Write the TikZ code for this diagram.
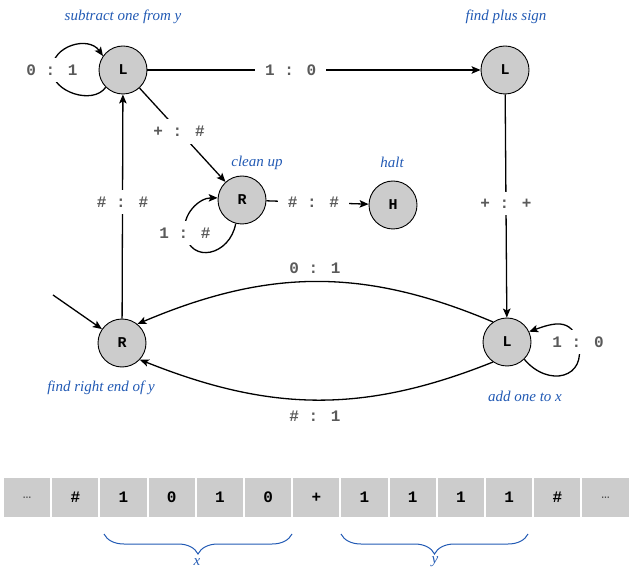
\documentclass[tikz,border=0pt]{standalone}
\usepackage{fontspec}
\setmainfont{Liberation Serif}
\newfontfamily\mono{Liberation Mono}
\usetikzlibrary{arrows.meta,decorations.pathreplacing,calc}
\definecolor{capblue}{RGB}{34,90,180}
\definecolor{lblgray}{RGB}{90,90,90}
\definecolor{cellgray}{RGB}{204,204,204}
\begin{document}
\begin{tikzpicture}[x=1pt,y=1pt,
  state/.style={circle,draw=black,line width=0.9pt,fill=cellgray,minimum size=48pt,inner sep=0pt,font=\mono\bfseries\fontsize{15}{15}\selectfont},
  captxt/.style={text=capblue,font=\itshape\fontsize{15}{15}\selectfont},
  lbl/.style={text=lblgray,fill=white,inner xsep=10pt,inner ysep=7pt,font=\mono\bfseries\fontsize{16}{16}\selectfont},
  trans/.style={line width=1.3pt,-{Stealth[length=9pt,width=7.5pt,inset=2pt]}},
  cell/.style={fill=cellgray,minimum width=46.2pt,minimum height=39pt,inner sep=0pt,font=\mono\bfseries\fontsize{16}{16}\selectfont},
  dotcell/.style={cell,font=\mono\fontsize{14}{14}\selectfont,text=black!70},
  brc/.style={draw=capblue,line width=1pt,decorate,decoration={brace,mirror,amplitude=20pt}}
]
\useasboundingbox (0,0) rectangle (629,568);
% states
\node[state] (S) at (123,498) {L};
\node[state] (P) at (505,498) {L};
\node[state] (C) at (242,368) {R};
\node[state] (H) at (393,363) {H};
\node[state] (FR) at (122,225) {R};
\node[state] (A) at (507,226) {L};
% captions
\node[captxt] (capS) at (123,551) {subtract one from y};
\node[captxt] (capP) at (506,551) {find plus sign};
\node[captxt] (capC) at (257,405) {clean up};
\node[captxt] (capH) at (392,406) {halt};
\node[captxt] (capFR) at (101,180) {find right end of y};
\node[captxt] (capA) at (525,172) {add one to x};
% transitions
\draw[trans] (S) -- node[lbl,pos=0.43] (l10) {1 : 0} (P);
\draw[trans] (S) -- node[lbl,pos=0.46] (lpm) {+ : \#} (C);
\draw[trans] (C) -- node[lbl,pos=0.46] (lhh) {\# : \#} (H);
\draw[trans] (P) -- node[lbl,pos=0.49] (lpp) {+ : +} (A);
\draw[trans] (FR) -- node[lbl,pos=0.52] (lhh2) {\# : \#} (S);
\coordinate (start) at (53,273);
\draw[trans] (start) -- (FR);
\draw[trans] (A.125) .. controls +(-130,55) and +(130,55) .. (FR.51);
\node[lbl,fill=none] (l01b) at (315,300) {0 : 1};
\draw[trans] (A.235) .. controls +(-130,-52) and +(130,-52) .. (FR.-43);
\node[lbl,fill=none] (lh1) at (315,152) {\# : 1};
% loops
\coordinate (sl) at (52,498);
\draw[trans] (S.225) to[out=235,in=-90] (sl) to[out=90,in=125,looseness=1.2] (S.145);
\node[lbl] (l01) at (sl) {0 : 1};
\coordinate (cl) at (185,335);
\draw[trans] (C.255) to[out=260,in=-80,looseness=1.6] (cl) to[out=100,in=180] (C.175);
\node[lbl] (l1h) at (cl) {1 : \#};
\coordinate (al) at (578,226);
\draw[trans] (A.-45) to[out=-50,in=-75,looseness=1.7] (al) to[out=105,in=20,looseness=1.3] (A.25);
\node[lbl] (l10b) at (al) {1 : 0};
% tape
\foreach \t [count=\i from 0] in {{\#},1,0,1,0,+,1,1,1,1,{\#}} {
  \node[cell] (t\i) at (27.1+48.2+48.2*\i,70.5) {\t};
}
\node[dotcell] (tleft) at (27.1,70.5) {…};
\node[dotcell] (tright) at (27.1+48.2*12,70.5) {…};
% braces
\draw[brc] (104,34) -- (292,34);
\draw[brc] (341,34) -- (528,34);
\node[captxt] (bx) at (197,6) {x};
\node[captxt] (by) at (435,6) {y};
\end{tikzpicture}
\end{document}
